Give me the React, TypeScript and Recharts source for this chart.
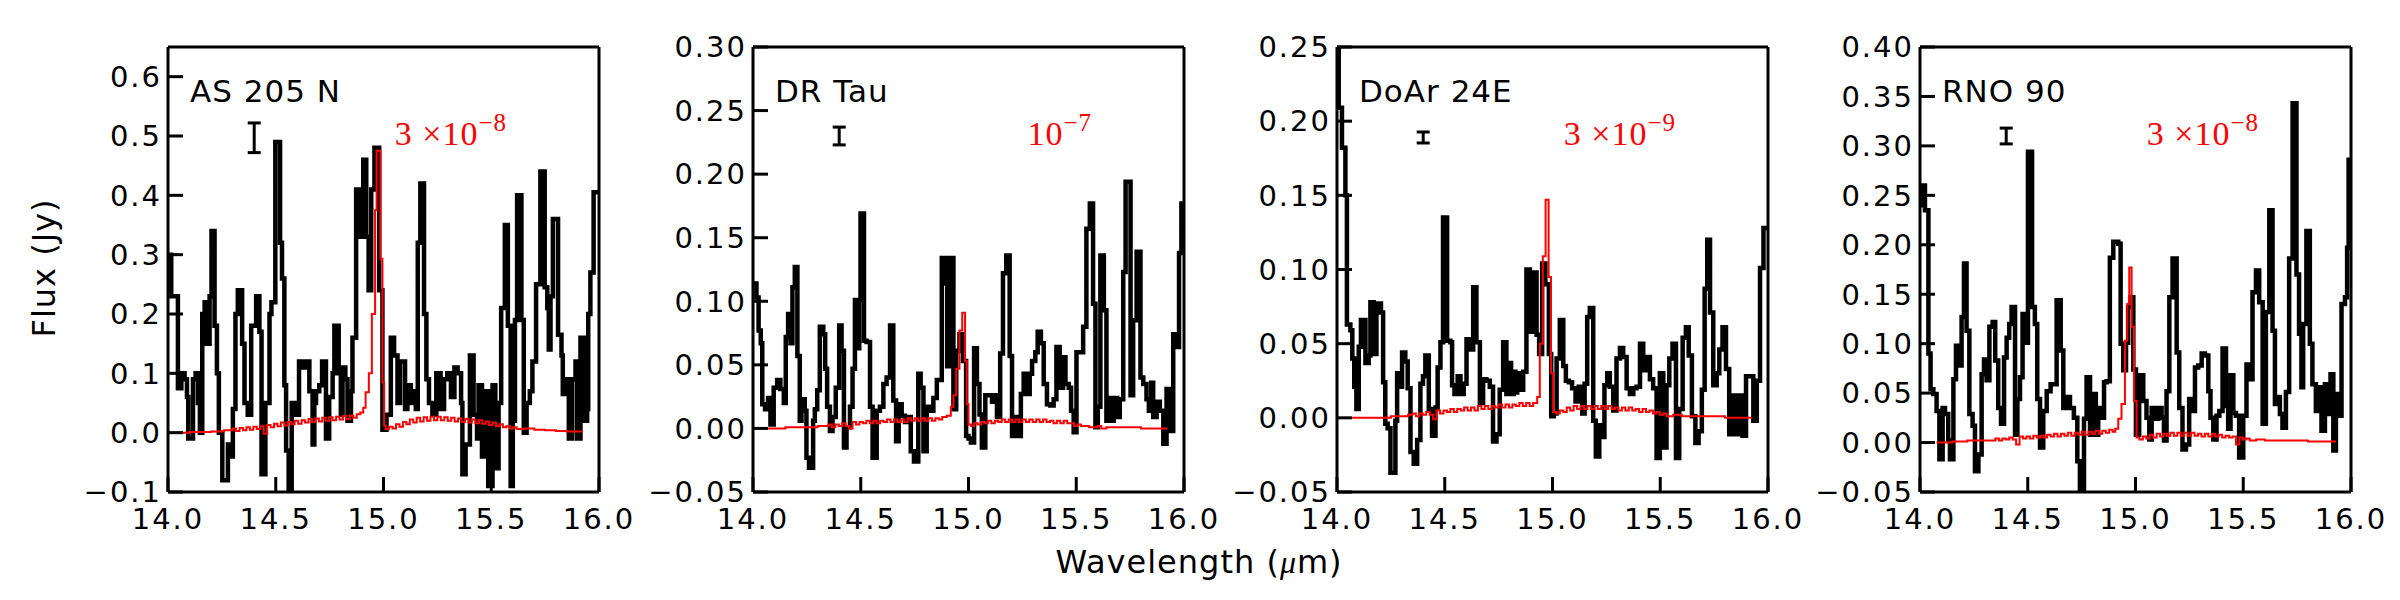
import React from 'react';
import { ComposedChart, Line, Scatter, ErrorBar, XAxis, YAxis } from 'recharts';

// ---------------- AS 205 N ----------------
const as205nWave = [
  14.000, 14.015, 14.046, 14.062, 14.077, 14.088, 14.094, 14.116, 14.128, 14.139,
  14.148, 14.159, 14.170, 14.177, 14.193, 14.202, 14.216, 14.227, 14.236, 14.252,
  14.278, 14.285, 14.301, 14.313, 14.324, 14.344, 14.355, 14.370, 14.386, 14.409,
  14.424, 14.434, 14.452, 14.471, 14.480, 14.498, 14.520, 14.529, 14.540, 14.548,
  14.560, 14.574, 14.588, 14.608, 14.625, 14.637, 14.656, 14.671, 14.679, 14.687,
  14.702, 14.715, 14.733, 14.748, 14.764, 14.772, 14.792, 14.802, 14.810, 14.823,
  14.833, 14.849, 14.856, 14.873, 14.889, 14.906, 14.920, 14.931, 14.943, 14.958,
  14.980, 14.995, 15.014, 15.034, 15.049, 15.065, 15.077, 15.100, 15.111, 15.127,
  15.137, 15.150, 15.159, 15.171, 15.188, 15.199, 15.211, 15.227, 15.245, 15.265,
  15.281, 15.296, 15.313, 15.329, 15.344, 15.360, 15.366, 15.381, 15.401, 15.418,
  15.434, 15.441, 15.457, 15.472, 15.486, 15.506, 15.519, 15.534, 15.546, 15.563,
  15.577, 15.590, 15.600, 15.610, 15.620, 15.640, 15.651, 15.664, 15.679, 15.691,
  15.708, 15.728, 15.748, 15.760, 15.767, 15.775, 15.786, 15.810, 15.826, 15.832,
  15.844, 15.860, 15.875, 15.891, 15.898, 15.914, 15.929, 15.945, 15.950, 15.960,
  15.975, 16.000,
];
const as205nFlux = [
  0.30, 0.23, 0.075, 0.10, 0.09, 0.06, -0.01, 0.09, 0.10, 0.05,
  0.00, 0.20, 0.22, 0.15, 0.23, 0.34, 0.18, 0.10, 0.00, -0.08,
  -0.02, -0.04, 0.04, 0.20, 0.24, 0.15, 0.05, 0.03, 0.18, 0.23,
  0.17, -0.07, 0.05, 0.20, 0.22, 0.49, 0.32, 0.26, 0.08, -0.03,
  -0.10, 0.05, 0.03, 0.12, 0.11, 0.12, 0.07, -0.02, 0.05, 0.07,
  0.08, 0.12, -0.01, 0.06, 0.10, 0.18, 0.10, 0.03, 0.11, 0.09,
  0.02, 0.07, 0.16, 0.41, 0.33, 0.46, 0.33, 0.24, 0.41, 0.48,
  0.24, 0.005, 0.03, 0.16, 0.13, 0.05, 0.12, 0.04, 0.08, 0.05,
  0.07, 0.04, 0.32, 0.42, 0.20, 0.09, 0.05, 0.03, 0.10, 0.04,
  0.09, 0.10, 0.06, 0.11, 0.10, 0.05, -0.07, -0.02, 0.13, 0.03,
  -0.01, 0.08, -0.04, 0.07, -0.09, 0.08, -0.06, 0.05, 0.21, 0.35,
  0.18, -0.09, 0.02, 0.19, 0.40, 0.19, 0.00, 0.05, 0.07, 0.12,
  0.25, 0.44, 0.245, 0.21, 0.14, 0.23, 0.36, 0.165, 0.13, 0.065,
  0.09, -0.01, 0.09, 0.12, -0.01, 0.16, 0.02, 0.04, 0.20, 0.27,
  0.405, 0.405,
];
const as205nModelWave = [
  14.000, 14.100, 14.200, 14.260, 14.300, 14.316, 14.332, 14.348, 14.364, 14.380,
  14.396, 14.412, 14.428, 14.444, 14.460, 14.476, 14.492, 14.508, 14.524, 14.540,
  14.556, 14.572, 14.588, 14.604, 14.620, 14.636, 14.652, 14.668, 14.684, 14.700,
  14.716, 14.732, 14.748, 14.764, 14.780, 14.796, 14.812, 14.828, 14.844, 14.860,
  14.876, 14.892, 14.906, 14.917, 14.932, 14.946, 14.961, 14.968, 14.986, 14.995,
  15.003, 15.010, 15.026, 15.042, 15.058, 15.074, 15.090, 15.106, 15.122, 15.138,
  15.154, 15.170, 15.186, 15.202, 15.218, 15.234, 15.250, 15.266, 15.282, 15.298,
  15.314, 15.330, 15.346, 15.362, 15.378, 15.394, 15.410, 15.426, 15.442, 15.458,
  15.474, 15.490, 15.506, 15.522, 15.538, 15.554, 15.570, 15.586, 15.602, 15.618,
  15.650, 15.700, 15.750, 15.800, 15.850, 15.920,
];
const as205nModelFlux = [
  0.000, 0.001, 0.002, 0.004, 0.007, 0.003, 0.008, 0.004, 0.009, 0.005,
  0.010, 0.006, 0.011, -0.002, 0.013, 0.009, 0.015, 0.011, 0.017, 0.012,
  0.018, 0.014, 0.020, 0.015, 0.021, 0.017, 0.023, 0.018, 0.024, 0.019,
  0.025, 0.020, 0.026, 0.021, 0.027, 0.022, 0.028, 0.023, 0.029, 0.025,
  0.031, 0.034, 0.042, 0.068, 0.100, 0.200, 0.375, 0.475, 0.293, 0.085,
  0.012, 0.006, 0.010, 0.007, 0.014, 0.010, 0.018, 0.014, 0.022, 0.017,
  0.025, 0.019, 0.026, 0.020, 0.027, 0.021, 0.027, 0.021, 0.026, 0.020,
  0.025, 0.019, 0.024, 0.018, 0.023, 0.017, 0.022, 0.016, 0.021, 0.015,
  0.019, 0.013, 0.017, 0.011, 0.014, 0.009, 0.011, 0.007, 0.009, 0.006,
  0.007, 0.005, 0.004, 0.003, 0.002, 0.001,
];

// ---------------- DR Tau ----------------
const drTauWave = [
  14.000, 14.016, 14.026, 14.036, 14.043, 14.056, 14.070, 14.081, 14.096, 14.112,
  14.127, 14.143, 14.152, 14.163, 14.174, 14.183, 14.194, 14.206, 14.217, 14.225,
  14.240, 14.248, 14.260, 14.279, 14.287, 14.298, 14.310, 14.326, 14.335, 14.344,
  14.357, 14.369, 14.384, 14.400, 14.411, 14.422, 14.434, 14.450, 14.462, 14.473,
  14.485, 14.493, 14.499, 14.515, 14.527, 14.543, 14.555, 14.574, 14.589, 14.605,
  14.620, 14.636, 14.651, 14.664, 14.676, 14.690, 14.705, 14.721, 14.732, 14.747,
  14.767, 14.778, 14.791, 14.806, 14.819, 14.837, 14.853, 14.876, 14.894, 14.901,
  14.912, 14.930, 14.943, 14.958, 14.974, 14.989, 15.000, 15.011, 15.026, 15.039,
  15.051, 15.062, 15.078, 15.109, 15.119, 15.132, 15.147, 15.160, 15.175, 15.191,
  15.202, 15.217, 15.233, 15.243, 15.256, 15.271, 15.284, 15.295, 15.310, 15.321,
  15.336, 15.349, 15.364, 15.380, 15.395, 15.408, 15.423, 15.439, 15.450, 15.465,
  15.476, 15.488, 15.501, 15.532, 15.547, 15.563, 15.578, 15.589, 15.600, 15.612,
  15.628, 15.640, 15.651, 15.662, 15.674, 15.690, 15.702, 15.718, 15.729, 15.752,
  15.764, 15.780, 15.798, 15.811, 15.826, 15.837, 15.848, 15.857, 15.873, 15.888,
  15.904, 15.919, 15.935, 15.950, 15.961, 15.977, 15.988, 16.000,
];
const drTauFlux = [
  0.114, 0.103, 0.077, 0.067, 0.019, 0.015, 0.024, 0.003, 0.032, 0.038,
  0.031, 0.020, 0.072, 0.090, 0.067, 0.111, 0.127, 0.057, 0.006, 0.023,
  0.014, -0.023, -0.031, 0.006, 0.015, 0.030, 0.080, 0.074, 0.047, 0.017,
  -0.002, 0.009, 0.032, 0.081, 0.061, -0.015, 0.001, 0.017, 0.047, 0.101,
  0.063, 0.101, 0.169, 0.069, 0.068, 0.017, -0.023, 0.014, 0.017, 0.035,
  0.040, 0.081, 0.022, -0.010, 0.019, 0.010, 0.005, 0.009, -0.018, -0.026,
  0.043, 0.032, -0.018, 0.017, 0.014, 0.024, 0.038, 0.134, 0.114, 0.049,
  0.134, 0.015, 0.061, 0.074, 0.053, -0.006, -0.008, -0.011, 0.063, 0.035,
  0.011, -0.015, 0.026, 0.021, 0.026, 0.009, 0.059, 0.122, 0.136, 0.057,
  -0.006, 0.009, -0.006, 0.027, 0.043, 0.027, 0.043, 0.053, 0.060, 0.076,
  0.067, 0.035, 0.019, 0.018, 0.023, 0.064, 0.032, 0.056, 0.035, 0.032,
  0.014, -0.003, 0.060, 0.080, 0.157, 0.177, 0.098, 0.001, 0.017, 0.136,
  0.093, 0.006, 0.024, 0.006, 0.024, 0.009, 0.023, 0.123, 0.194, 0.026,
  0.085, 0.139, 0.040, 0.035, 0.023, 0.014, 0.036, 0.009, 0.021, 0.014,
  -0.012, 0.031, -0.002, 0.074, 0.064, 0.138, 0.177, 0.177,
];
const drTauModelWave = [
  14.070, 14.150, 14.250, 14.300, 14.350, 14.366, 14.382, 14.398, 14.414, 14.430,
  14.446, 14.462, 14.478, 14.494, 14.510, 14.526, 14.542, 14.558, 14.574, 14.590,
  14.606, 14.622, 14.638, 14.654, 14.670, 14.686, 14.702, 14.718, 14.734, 14.750,
  14.766, 14.782, 14.798, 14.814, 14.830, 14.846, 14.862, 14.878, 14.899, 14.918,
  14.930, 14.943, 14.958, 14.971, 14.984, 14.992, 15.000, 15.012, 15.026, 15.042,
  15.058, 15.074, 15.090, 15.106, 15.122, 15.138, 15.154, 15.170, 15.186, 15.202,
  15.218, 15.234, 15.250, 15.266, 15.282, 15.298, 15.314, 15.330, 15.346, 15.362,
  15.378, 15.394, 15.410, 15.426, 15.442, 15.458, 15.474, 15.490, 15.506, 15.522,
  15.538, 15.560, 15.600, 15.616, 15.640, 15.700, 15.800, 15.922,
];
const drTauModelFlux = [
  0.000, 0.001, 0.001, 0.002, 0.003, 0.001, 0.003, 0.002, 0.004, 0.002,
  0.000, 0.005, 0.003, 0.005, 0.004, 0.006, 0.004, 0.006, 0.004, 0.006,
  0.005, 0.007, 0.005, 0.007, 0.005, 0.007, 0.005, 0.008, 0.006, 0.008,
  0.006, 0.008, 0.006, 0.008, 0.006, 0.008, 0.007, 0.009, 0.010, 0.017,
  0.026, 0.047, 0.077, 0.091, 0.053, 0.019, 0.003, 0.002, 0.004, 0.003,
  0.005, 0.004, 0.006, 0.004, 0.006, 0.005, 0.007, 0.005, 0.007, 0.005,
  0.007, 0.005, 0.007, 0.005, 0.007, 0.005, 0.007, 0.005, 0.007, 0.005,
  0.006, 0.004, 0.006, 0.004, 0.006, 0.004, 0.004, 0.002, 0.003, 0.002,
  0.002, 0.001, 0.002, 0.000, 0.001, 0.001, 0.000, 0.000,
];

// ---------------- DoAr 24E ----------------
const doar24eWave = [
  14.000, 14.008, 14.023, 14.039, 14.046, 14.062, 14.071, 14.080, 14.090, 14.101,
  14.111, 14.132, 14.147, 14.155, 14.170, 14.183, 14.204, 14.214, 14.224, 14.235,
  14.248, 14.271, 14.279, 14.291, 14.302, 14.317, 14.328, 14.341, 14.356, 14.372,
  14.387, 14.399, 14.410, 14.426, 14.441, 14.457, 14.467, 14.480, 14.492, 14.511,
  14.526, 14.534, 14.545, 14.560, 14.573, 14.588, 14.601, 14.619, 14.632, 14.647,
  14.663, 14.678, 14.693, 14.709, 14.724, 14.740, 14.755, 14.771, 14.786, 14.797,
  14.808, 14.820, 14.828, 14.836, 14.851, 14.864, 14.879, 14.895, 14.910, 14.926,
  14.938, 14.952, 14.967, 14.983, 14.994, 15.006, 15.019, 15.034, 15.050, 15.062,
  15.076, 15.091, 15.107, 15.122, 15.138, 15.149, 15.161, 15.173, 15.189, 15.201,
  15.217, 15.231, 15.241, 15.254, 15.266, 15.282, 15.297, 15.313, 15.328, 15.344,
  15.359, 15.375, 15.390, 15.406, 15.421, 15.437, 15.452, 15.467, 15.483, 15.498,
  15.514, 15.529, 15.542, 15.557, 15.573, 15.588, 15.604, 15.619, 15.632, 15.647,
  15.663, 15.678, 15.693, 15.706, 15.718, 15.731, 15.746, 15.762, 15.774, 15.789,
  15.805, 15.820, 15.836, 15.851, 15.867, 15.882, 15.898, 15.932, 15.948, 15.963,
  15.979, 16.000,
];
const doar24eFlux = [
  0.270, 0.209, 0.182, 0.150, 0.063, 0.059, 0.040, 0.021, 0.006, 0.048,
  0.066, 0.037, 0.042, 0.078, 0.043, 0.077, 0.071, 0.024, -0.004, -0.007,
  -0.037, -0.002, 0.030, 0.021, 0.044, 0.038, 0.020, -0.023, -0.031, -0.015,
  0.023, 0.028, 0.042, 0.006, -0.012, 0.007, 0.034, 0.051, 0.135, 0.052,
  0.051, 0.022, 0.016, 0.028, 0.016, 0.023, 0.053, 0.046, 0.088, 0.051,
  0.010, 0.026, 0.025, 0.021, -0.016, -0.011, 0.019, 0.051, 0.016, 0.037,
  0.016, 0.031, 0.017, 0.030, 0.019, 0.031, 0.100, 0.058, 0.098, 0.056,
  0.043, 0.104, 0.090, 0.043, 0.001, 0.003, 0.040, 0.066, 0.035, 0.025,
  0.024, 0.020, 0.011, 0.021, 0.003, 0.023, 0.068, 0.074, -0.002, -0.026,
  -0.005, -0.013, 0.022, 0.030, 0.021, 0.005, 0.040, 0.047, 0.041, 0.020,
  0.016, 0.020, 0.021, 0.050, 0.032, 0.041, 0.026, 0.020, -0.027, 0.030,
  -0.020, 0.022, 0.040, 0.050, -0.027, 0.006, 0.054, 0.061, 0.042, 0.001,
  -0.017, -0.009, 0.019, 0.087, 0.120, 0.071, 0.022, 0.030, 0.046, 0.061,
  0.033, -0.011, 0.015, -0.011, 0.015, -0.012, 0.028, -0.002, 0.025, 0.101,
  0.128, 0.128,
];
const doar24eModelWave = [
  14.070, 14.150, 14.250, 14.330, 14.350, 14.366, 14.382, 14.398, 14.414, 14.430,
  14.446, 14.462, 14.478, 14.494, 14.510, 14.526, 14.542, 14.558, 14.574, 14.590,
  14.606, 14.622, 14.638, 14.654, 14.670, 14.686, 14.702, 14.718, 14.734, 14.750,
  14.766, 14.782, 14.798, 14.814, 14.830, 14.846, 14.862, 14.878, 14.894, 14.910,
  14.929, 14.941, 14.955, 14.968, 14.982, 14.993, 15.003, 15.018, 15.034, 15.050,
  15.066, 15.082, 15.098, 15.114, 15.130, 15.146, 15.162, 15.178, 15.194, 15.210,
  15.226, 15.242, 15.258, 15.274, 15.290, 15.306, 15.322, 15.338, 15.354, 15.370,
  15.386, 15.402, 15.418, 15.434, 15.450, 15.466, 15.482, 15.498, 15.514, 15.530,
  15.560, 15.600, 15.700, 15.800, 15.925,
];
const doar24eModelFlux = [
  0.000, 0.000, 0.001, 0.002, 0.003, 0.001, 0.003, 0.002, 0.004, 0.002,
  -0.001, 0.005, 0.003, 0.005, 0.004, 0.006, 0.004, 0.006, 0.005, 0.007,
  0.005, 0.007, 0.005, 0.008, 0.006, 0.008, 0.006, 0.008, 0.007, 0.009,
  0.007, 0.009, 0.007, 0.009, 0.008, 0.010, 0.008, 0.010, 0.008, 0.010,
  0.014, 0.050, 0.109, 0.147, 0.095, 0.030, 0.004, 0.003, 0.005, 0.004,
  0.007, 0.005, 0.008, 0.006, 0.008, 0.006, 0.008, 0.006, 0.008, 0.006,
  0.008, 0.006, 0.008, 0.006, 0.007, 0.005, 0.007, 0.005, 0.007, 0.005,
  0.006, 0.004, 0.006, 0.004, 0.005, 0.003, 0.004, 0.002, 0.003, 0.001,
  0.002, 0.001, 0.001, 0.000, 0.000,
];

// ---------------- RNO 90 ----------------
const rno90Wave = [
  14.000, 14.008, 14.023, 14.039, 14.049, 14.062, 14.077, 14.090, 14.105, 14.116,
  14.131, 14.139, 14.155, 14.167, 14.182, 14.193, 14.204, 14.216, 14.229, 14.244,
  14.255, 14.271, 14.286, 14.297, 14.309, 14.322, 14.337, 14.349, 14.363, 14.376,
  14.390, 14.402, 14.414, 14.425, 14.441, 14.452, 14.464, 14.476, 14.492, 14.501,
  14.520, 14.533, 14.544, 14.557, 14.572, 14.588, 14.606, 14.634, 14.653, 14.665,
  14.680, 14.696, 14.714, 14.730, 14.742, 14.761, 14.773, 14.789, 14.801, 14.816,
  14.827, 14.843, 14.854, 14.866, 14.881, 14.897, 14.920, 14.931, 14.943, 14.956,
  14.966, 14.977, 14.990, 15.002, 15.017, 15.036, 15.051, 15.064, 15.075, 15.090,
  15.106, 15.121, 15.132, 15.144, 15.157, 15.172, 15.191, 15.203, 15.218, 15.234,
  15.249, 15.260, 15.276, 15.291, 15.307, 15.322, 15.338, 15.348, 15.361, 15.376,
  15.389, 15.404, 15.420, 15.430, 15.441, 15.454, 15.466, 15.481, 15.500, 15.515,
  15.531, 15.543, 15.559, 15.574, 15.590, 15.605, 15.621, 15.636, 15.647, 15.659,
  15.670, 15.682, 15.698, 15.713, 15.729, 15.747, 15.759, 15.770, 15.778, 15.793,
  15.809, 15.821, 15.837, 15.852, 15.863, 15.879, 15.894, 15.905, 15.918, 15.930,
  15.945, 15.956, 15.972, 15.982, 15.989, 16.000,
];
const rno90Flux = [
  0.240, 0.260, 0.235, 0.090, 0.054, 0.049, 0.032, -0.017, 0.035, 0.029,
  0.002, -0.017, 0.064, 0.098, 0.078, 0.127, 0.181, 0.113, 0.029, 0.017,
  -0.029, -0.012, 0.069, 0.084, 0.063, 0.117, 0.122, 0.083, 0.035, 0.019,
  0.086, 0.106, 0.120, 0.137, 0.008, 0.044, 0.066, 0.130, 0.101, 0.294,
  0.137, 0.120, 0.044, -0.005, 0.032, 0.052, 0.059, 0.144, 0.093, 0.035,
  0.046, 0.035, 0.025, -0.019, -0.047, 0.024, 0.066, 0.008, 0.049, 0.008,
  0.035, 0.025, 0.061, 0.062, 0.187, 0.203, 0.201, 0.100, 0.073, 0.101,
  0.137, 0.147, 0.074, 0.008, 0.068, 0.042, 0.025, 0.003, 0.035, 0.024,
  0.035, 0.025, 0.002, 0.052, 0.147, 0.186, 0.091, 0.035, -0.007, -0.002,
  0.044, 0.032, 0.076, 0.078, 0.090, 0.088, 0.052, 0.025, 0.003, 0.027,
  0.032, 0.095, 0.037, 0.014, 0.068, 0.030, 0.027, -0.015, 0.027, 0.079,
  0.064, 0.152, 0.174, 0.142, 0.019, 0.132, 0.235, 0.113, 0.039, 0.046,
  0.029, 0.015, 0.051, 0.186, 0.343, 0.170, 0.110, 0.056, 0.120, 0.214,
  0.100, 0.059, 0.032, 0.056, 0.012, 0.059, 0.029, 0.069, -0.008, 0.049,
  0.027, 0.140, 0.147, 0.197, 0.286, 0.286,
];
const rno90ModelWave = [
  14.077, 14.150, 14.220, 14.300, 14.350, 14.366, 14.382, 14.398, 14.414, 14.430,
  14.446, 14.462, 14.478, 14.494, 14.510, 14.526, 14.542, 14.558, 14.574, 14.590,
  14.606, 14.622, 14.638, 14.654, 14.670, 14.686, 14.702, 14.718, 14.734, 14.750,
  14.766, 14.782, 14.798, 14.814, 14.830, 14.846, 14.862, 14.878, 14.894, 14.906,
  14.920, 14.935, 14.951, 14.962, 14.971, 14.982, 14.993, 15.005, 15.018, 15.034,
  15.050, 15.066, 15.082, 15.098, 15.114, 15.130, 15.146, 15.162, 15.178, 15.194,
  15.210, 15.226, 15.242, 15.258, 15.274, 15.290, 15.306, 15.322, 15.338, 15.354,
  15.370, 15.386, 15.402, 15.418, 15.434, 15.450, 15.466, 15.482, 15.498, 15.514,
  15.530, 15.560, 15.600, 15.700, 15.800, 15.926,
];
const rno90ModelFlux = [
  0.000, 0.001, 0.002, 0.002, 0.004, 0.002, 0.004, 0.003, 0.005, 0.003,
  -0.002, 0.006, 0.004, 0.006, 0.004, 0.007, 0.005, 0.007, 0.005, 0.008,
  0.006, 0.009, 0.006, 0.009, 0.007, 0.010, 0.007, 0.010, 0.008, 0.011,
  0.008, 0.011, 0.009, 0.012, 0.009, 0.012, 0.010, 0.013, 0.011, 0.014,
  0.024, 0.039, 0.103, 0.140, 0.177, 0.117, 0.042, 0.005, 0.003, 0.006,
  0.004, 0.008, 0.005, 0.009, 0.006, 0.009, 0.007, 0.010, 0.007, 0.010,
  0.007, 0.010, 0.007, 0.010, 0.007, 0.009, 0.006, 0.009, 0.006, 0.009,
  0.006, 0.008, 0.005, 0.007, 0.005, 0.006, -0.002, 0.005, 0.003, 0.004,
  0.002, 0.003, 0.002, 0.002, 0.001, 0.000,
];

// ---------------- shared axis settings and annotations ----------------
const wavelengthTicks = [14.0, 14.5, 15.0, 15.5, 16.0];
const as205nFluxTicks = [-0.1, 0.0, 0.1, 0.2, 0.3, 0.4, 0.5, 0.6];
const drTauFluxTicks = [-0.05, 0.0, 0.05, 0.1, 0.15, 0.2, 0.25, 0.3];
const doar24eFluxTicks = [-0.05, 0.0, 0.05, 0.1, 0.15, 0.2, 0.25];
const rno90FluxTicks = [-0.05, 0.0, 0.05, 0.1, 0.15, 0.2, 0.25, 0.3, 0.35, 0.4];
const fluxDomains = [[-0.1, 0.65], [-0.05, 0.3], [-0.05, 0.25], [-0.05, 0.4]];
const fluxDecimals = [1, 2, 2, 2];
const sourceNames = ['AS 205 N', 'DR Tau', 'DoAr 24E', 'RNO 90'];
const modelScaleLead = ['3 \u00d710', '10', '3 \u00d710', '3 \u00d710'];
const modelScaleExponent = ['\u22128', '\u22127', '\u22129', '\u22128'];
const errorBarWave = [14.4, 14.4, 14.4, 14.4];
const errorBarFlux = [0.497, 0.23, 0.189, 0.31];
const errorBarHalf = [0.025, 0.007, 0.0037, 0.008];

const panels = [
  { wave: as205nWave, flux: as205nFlux, modelWave: as205nModelWave, modelFlux: as205nModelFlux, ticks: as205nFluxTicks },
  { wave: drTauWave, flux: drTauFlux, modelWave: drTauModelWave, modelFlux: drTauModelFlux, ticks: drTauFluxTicks },
  { wave: doar24eWave, flux: doar24eFlux, modelWave: doar24eModelWave, modelFlux: doar24eModelFlux, ticks: doar24eFluxTicks },
  { wave: rno90Wave, flux: rno90Flux, modelWave: rno90ModelWave, modelFlux: rno90ModelFlux, ticks: rno90FluxTicks },
];

// ---------------- layout ----------------
const PLOT_LEFT = [168, 753, 1337, 1920];
const PLOT_TOP = 47;
const PLOT_W = 431;
const Y_AXIS_W = 120;
const RIGHT_PAD = 45;
const CHART_H = 600;
const CHART_W = Y_AXIS_W + PLOT_W + 1 + RIGHT_PAD;
const SANS = 'DejaVu Sans';
const SERIF = 'Liberation Serif';

const tickText = { fill: '#000', fontSize: 29, fontFamily: SANS, letterSpacing: 2 };
const spine = { stroke: '#000', strokeWidth: 3 };
const tickMark = { stroke: '#000', strokeWidth: 3 };

const fmtFlux = (decimals: number) => (v: number) =>
  (v < 0 ? '\u2212' : '') + Math.abs(v).toFixed(decimals);

function SpectrumPanel({ index }: { index: number }) {
  const p = panels[index];
  const observed = p.wave.map((w, i) => ({ wl: w, flux: p.flux[i] }));
  const model = p.modelWave.map((w, i) => ({ wl: w, flux: p.modelFlux[i] }));
  const noise = [{ wl: errorBarWave[index], flux: errorBarFlux[index], err: errorBarHalf[index] }];
  const domain = fluxDomains[index];
  const yFmt = fmtFlux(fluxDecimals[index]);

  return (
    <div style={{ position: 'absolute', left: PLOT_LEFT[index] - Y_AXIS_W, top: 0 }}>
      <ComposedChart
        width={CHART_W}
        height={CHART_H}
        margin={{ top: PLOT_TOP - 1, right: RIGHT_PAD, bottom: 48, left: 0 }}
      >
        <Line
          data={observed}
          dataKey="flux"
          type="stepAfter"
          stroke="#000"
          strokeWidth={4.5}
          dot={false}
          activeDot={false}
          isAnimationActive={false}
        />
        <Line
          data={model}
          dataKey="flux"
          type="stepAfter"
          stroke="#ff0000"
          strokeWidth={2}
          dot={false}
          activeDot={false}
          isAnimationActive={false}
        />
        <Scatter data={noise} dataKey="flux" shape={() => <g />} isAnimationActive={false} legendType="none">
          <ErrorBar dataKey="err" direction="y" width={6.5} stroke="#000" strokeWidth={3} isAnimationActive={false} />
        </Scatter>
        <XAxis
          dataKey="wl"
          type="number"
          domain={[14, 16]}
          ticks={wavelengthTicks}
          interval={0}
          allowDataOverflow
          height={60}
          tickSize={-15}
          tickMargin={31}
          axisLine={spine}
          tickLine={tickMark}
          tick={tickText}
          tickFormatter={(v: number) => v.toFixed(1)}
        />
        <XAxis
          xAxisId="top"
          orientation="top"
          dataKey="wl"
          type="number"
          domain={[14, 16]}
          ticks={wavelengthTicks}
          interval={0}
          allowDataOverflow
          height={1}
          tickSize={-15}
          axisLine={spine}
          tickLine={tickMark}
          tick={false}
        />
        <YAxis
          type="number"
          domain={domain}
          ticks={p.ticks}
          interval={0}
          allowDataOverflow
          width={Y_AXIS_W}
          tickSize={-15}
          tickMargin={21}
          axisLine={spine}
          tickLine={tickMark}
          tick={tickText}
          tickFormatter={yFmt}
        />
        <YAxis
          yAxisId="right"
          orientation="right"
          type="number"
          domain={domain}
          ticks={p.ticks}
          interval={0}
          allowDataOverflow
          width={1}
          tickSize={-15}
          axisLine={spine}
          tickLine={tickMark}
          tick={false}
        />
      </ComposedChart>
    </div>
  );
}

export default function App() {
  return (
    <div style={{ position: 'absolute', left: 0, top: 0, width: 2400, height: 600, background: '#fff', overflow: 'hidden' }}>
      {panels.map((_, i) => (
        <SpectrumPanel key={i} index={i} />
      ))}
      <svg width={2400} height={600} style={{ position: 'absolute', left: 0, top: 0, pointerEvents: 'none' }}>
        {sourceNames.map((name, i) => (
          <text key={name} x={PLOT_LEFT[i] + 22} y={102} fontFamily={SANS} fontSize={31} letterSpacing={1} fill="#000">
            {name}
          </text>
        ))}
        {modelScaleLead.map((lead, i) => (
          <text key={i} x={PLOT_LEFT[i] + 339} y={145} fontFamily={SERIF} fontSize={34} letterSpacing={1} fill="#ff0000" textAnchor="end">
            <tspan>{lead}</tspan>
            <tspan dy={-14} fontSize={25}>{modelScaleExponent[i]}</tspan>
          </text>
        ))}
        <text x={55} y={268} transform="rotate(-90 55 268)" textAnchor="middle" fontFamily={SANS} fontSize={32} letterSpacing={1} fill="#000">
          Flux (Jy)
        </text>
        <text x={1199} y={573} textAnchor="middle" fontFamily={SANS} fontSize={32} letterSpacing={1} fill="#000">
          Wavelength (<tspan fontFamily={SERIF} fontStyle="italic">μ</tspan>m)
        </text>
      </svg>
    </div>
  );
}
